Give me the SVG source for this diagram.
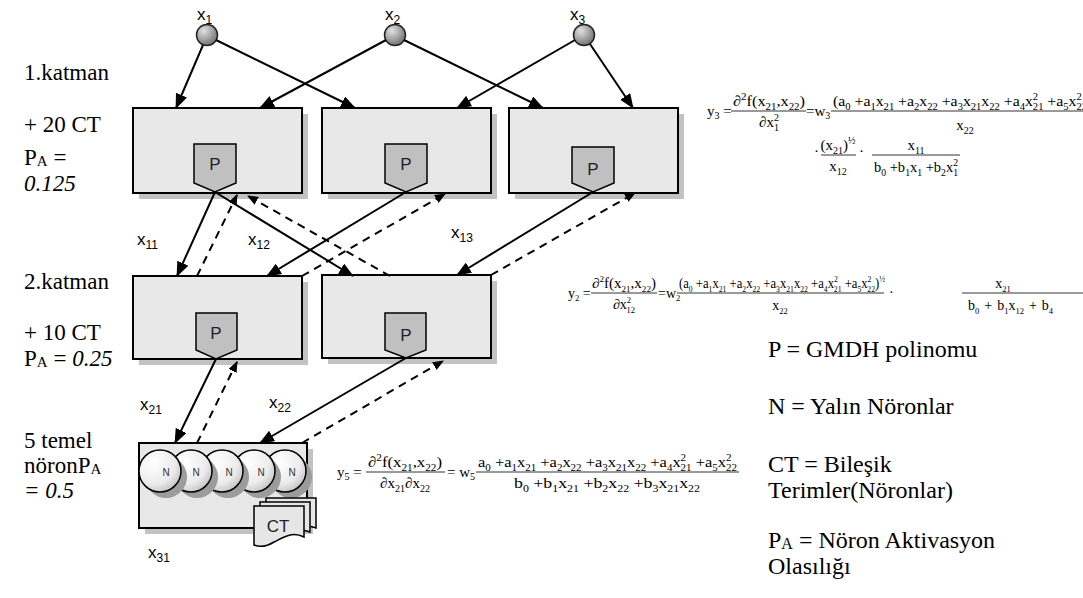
<svg xmlns="http://www.w3.org/2000/svg" width="1083" height="598" viewBox="0 0 1083 598">
<defs>
  <radialGradient id="gIn" cx="0.35" cy="0.3" r="0.75">
    <stop offset="0" stop-color="#e2e2e2"/>
    <stop offset="1" stop-color="#6e6e6e"/>
  </radialGradient>
  <radialGradient id="gN" cx="0.35" cy="0.3" r="0.85">
    <stop offset="0" stop-color="#ffffff"/>
    <stop offset="0.6" stop-color="#ececec"/>
    <stop offset="1" stop-color="#b4b4b4"/>
  </radialGradient>
  <marker id="ah" markerWidth="15" markerHeight="12" refX="14" refY="6" orient="auto" markerUnits="userSpaceOnUse">
    <path d="M0,0 L15,6 L0,12 z" fill="#000"/>
  </marker>
  <marker id="ahs" markerWidth="11" markerHeight="9" refX="10" refY="4.5" orient="auto" markerUnits="userSpaceOnUse">
    <path d="M0,0 L11,4.5 L0,9 z" fill="#000"/>
  </marker>
</defs>
<style>
 .box{fill:#e8e8e8;stroke:#000;stroke-width:2}
 .sh{fill:#c2c2c2}
 .p{fill:#c0c0c0;stroke:#000;stroke-width:1.5}
 .pt{font-family:'Liberation Sans',Arial,sans-serif;font-size:17px;fill:#222;text-anchor:middle}
 .nt{font-family:'Liberation Sans',Arial,sans-serif;font-size:10px;fill:#333;text-anchor:middle}
 .c{stroke:#000;stroke-width:2;fill:none;marker-end:url(#ah)}
 .d{stroke:#000;stroke-width:2;fill:none;stroke-dasharray:8,6;marker-end:url(#ahs)}
 .lab{font-family:'Liberation Sans',Arial,sans-serif;font-size:17px;fill:#000}
 .ls{font-size:12px}
 .tm{font-family:'Liberation Serif','Times New Roman',serif;font-size:23px;fill:#000}
 .lg{font-family:'Liberation Serif','Times New Roman',serif;font-size:24px;fill:#000}
 .e{font-family:'Liberation Serif','Times New Roman',serif;font-size:15px;fill:#000}
 .e2{font-family:'Liberation Serif','Times New Roman',serif;font-size:14px;fill:#000}
 .s{font-size:10px}
 .s2{font-size:8.5px}
 .fl{stroke:#000;stroke-width:0.8}
 .nc{fill:url(#gN);stroke:#000;stroke-width:1.5}
 .ns{fill:#9c9c9c}
 .ic{fill:url(#gIn);stroke:#222;stroke-width:1.5}
 .doc{fill:#e6e6e6;stroke:#000;stroke-width:1.5}
</style>

<!-- left labels -->
<g id="labels-left">
  <text class="tm" x="24" y="80">1.katman</text>
  <text class="tm" x="24" y="132">+ 20 CT</text>
  <text class="tm" x="24" y="165">P<tspan font-size="15" dy="1">A</tspan><tspan dy="-1"> =</tspan></text>
  <text class="tm" x="24" y="191" font-style="italic">0.125</text>
  <text class="tm" x="24" y="289">2.katman</text>
  <text class="tm" x="24" y="340">+ 10 CT</text>
  <text class="tm" x="24" y="366">P<tspan font-size="15" dy="1">A</tspan><tspan dy="-1"> = </tspan><tspan font-style="italic">0.25</tspan></text>
  <text class="tm" x="24" y="448">5 temel</text>
  <text class="tm" x="24" y="473">nöronP<tspan font-size="15" dy="1">A</tspan></text>
  <text class="tm" x="24" y="498" font-style="italic">= 0.5</text>
</g>

<!-- inputs -->
<g id="in-x1"><circle class="ic" cx="207" cy="35" r="10.5"/><text class="lab" x="197" y="20">x<tspan class="ls" dy="4">1</tspan></text></g>
<g id="in-x2"><circle class="ic" cx="395" cy="35" r="10.5"/><text class="lab" x="385" y="20">x<tspan class="ls" dy="4">2</tspan></text></g>
<g id="in-x3"><circle class="ic" cx="584" cy="35" r="10.5"/><text class="lab" x="570" y="20">x<tspan class="ls" dy="4">3</tspan></text></g>

<!-- layer 1 -->
<g id="l1n1">
  <rect class="sh" x="139" y="114" width="169" height="85"/>
  <rect class="box" x="133" y="108" width="169" height="85"/>
  <path class="p" d="M194,144 H236 V183 L215,192 L194,183 Z"/>
  <text class="pt" x="215" y="170">P</text>
</g>
<g id="l1n2">
  <rect class="sh" x="328" y="114" width="169" height="85"/>
  <rect class="box" x="322" y="108" width="169" height="85"/>
  <path class="p" d="M385,144 H427 V183 L406,192 L385,183 Z"/>
  <text class="pt" x="406" y="170">P</text>
</g>
<g id="l1n3">
  <rect class="sh" x="515" y="114" width="169" height="85"/>
  <rect class="box" x="509" y="108" width="169" height="85"/>
  <path class="p" d="M572,147 H614 V183 L593,192 L572,183 Z"/>
  <text class="pt" x="593" y="175">P</text>
</g>

<!-- layer 2 -->
<g id="l2n1">
  <rect class="sh" x="139" y="282" width="169" height="83"/>
  <rect class="box" x="133" y="276" width="169" height="83"/>
  <path class="p" d="M196,313 H237 V350 L216,359 L196,350 Z"/>
  <text class="pt" x="216" y="339">P</text>
</g>
<g id="l2n2">
  <rect class="sh" x="328" y="281" width="169" height="83"/>
  <rect class="box" x="322" y="275" width="169" height="83"/>
  <path class="p" d="M385,313 H426 V350 L406,358 L385,350 Z"/>
  <text class="pt" x="406" y="341">P</text>
</g>

<!-- layer 3 -->
<g id="l3">
  <rect class="sh" x="145" y="449" width="168" height="85"/>
  <rect class="box" x="139" y="443" width="168" height="85"/>
  <circle class="ns" cx="291" cy="477" r="21"/><circle class="nc" cx="285" cy="471" r="21"/><text class="nt" x="292" y="476">N</text>
  <circle class="ns" cx="260" cy="477" r="21"/><circle class="nc" cx="254" cy="471" r="21"/><text class="nt" x="261" y="476">N</text>
  <circle class="ns" cx="228" cy="477" r="21"/><circle class="nc" cx="222" cy="471" r="21"/><text class="nt" x="229" y="476">N</text>
  <circle class="ns" cx="197" cy="477" r="21"/><circle class="nc" cx="191" cy="471" r="21"/><text class="nt" x="196" y="476">N</text>
  <circle class="ns" cx="166" cy="477" r="21"/><circle class="nc" cx="160" cy="471" r="21"/><text class="nt" x="166" y="476">N</text>
  <path class="doc" d="M266,498 H316 V528 C306,524 298,528 290,532 C280,537 272,537 266,535 Z"/>
  <path class="doc" d="M260,502 H310 V532 C300,528 292,532 284,536 C274,541 266,541 260,539 Z"/>
  <path class="doc" d="M254,506 H304 V537 C292,531 284,537 274,542 C266,547 259,547 254,545 Z"/>
  <text class="pt" x="278" y="532" font-size="16">CT</text>
</g>

<!-- connectors -->
<g id="connectors">
  <line class="c" x1="203" y1="45" x2="176" y2="108"/>
  <line class="c" x1="216" y1="40" x2="355" y2="108"/>
  <line class="c" x1="386" y1="40" x2="260" y2="108"/>
  <line class="c" x1="404" y1="40" x2="543" y2="108"/>
  <line class="c" x1="575" y1="40" x2="457" y2="108"/>
  <line class="c" x1="590" y1="44" x2="633" y2="108"/>

  <line class="c" x1="215" y1="192" x2="177" y2="276"/>
  <line class="d" x1="197" y1="276" x2="237" y2="195"/>
  <line class="c" x1="215" y1="192" x2="353" y2="276"/>
  <line class="d" x1="390" y1="276" x2="248" y2="196"/>
  <line class="c" x1="406" y1="192" x2="267" y2="276"/>
  <line class="d" x1="302" y1="276" x2="445" y2="194"/>
  <line class="c" x1="593" y1="192" x2="457" y2="275"/>
  <line class="d" x1="491" y1="275" x2="635" y2="193"/>

  <line class="c" x1="216" y1="359" x2="175" y2="443"/>
  <line class="d" x1="197" y1="443" x2="237" y2="362"/>
  <line class="c" x1="406" y1="358" x2="260" y2="443"/>
  <line class="d" x1="302" y1="443" x2="443" y2="361"/>
</g>

<!-- connector labels -->
<g id="conn-labels">
  <text class="lab" x="137" y="245">x<tspan class="ls" dy="4">11</tspan></text>
  <text class="lab" x="248" y="245">x<tspan class="ls" dy="4">12</tspan></text>
  <text class="lab" x="451" y="238">x<tspan class="ls" dy="4">13</tspan></text>
  <text class="lab" x="140" y="410">x<tspan class="ls" dy="4">21</tspan></text>
  <text class="lab" x="269" y="408">x<tspan class="ls" dy="4">22</tspan></text>
  <text class="lab" x="148" y="558">x<tspan class="ls" dy="4">31</tspan></text>
</g>

<!-- equation y3 -->
<g id="eq-y3">
  <text class="e" x="707" y="116">y<tspan class="s" dy="3">3</tspan><tspan dy="-3"> =</tspan></text>
  <text class="e" x="769" y="106" text-anchor="middle" textLength="72" lengthAdjust="spacingAndGlyphs">∂<tspan class="s" dy="-6">2</tspan><tspan dy="6">f(x</tspan><tspan class="s" dy="4">21</tspan><tspan dy="-4">,x</tspan><tspan class="s" dy="4">22</tspan><tspan dy="-4">)</tspan></text>
  <line class="fl" x1="731" y1="111" x2="806" y2="111"/>
  <text class="e" x="769" y="127" text-anchor="middle">∂x<tspan class="s" dy="-6">2</tspan><tspan class="s" dx="-5" dy="10">1</tspan></text>
  <text class="e" x="806" y="116">=w<tspan class="s" dy="3">3</tspan></text>
  <text class="e" x="833" y="106" textLength="254" lengthAdjust="spacingAndGlyphs">(a<tspan class="s" dy="4">0</tspan><tspan dy="-4"> +a</tspan><tspan class="s" dy="4">1</tspan><tspan dy="-4">x</tspan><tspan class="s" dy="4">21</tspan><tspan dy="-4"> +a</tspan><tspan class="s" dy="4">2</tspan><tspan dy="-4">x</tspan><tspan class="s" dy="4">22</tspan><tspan dy="-4"> +a</tspan><tspan class="s" dy="4">3</tspan><tspan dy="-4">x</tspan><tspan class="s" dy="4">21</tspan><tspan dy="-4">x</tspan><tspan class="s" dy="4">22</tspan><tspan dy="-4"> +a</tspan><tspan class="s" dy="4">4</tspan><tspan dy="-4">x</tspan><tspan class="s" dy="-6">2</tspan><tspan class="s" dx="-5" dy="10">21</tspan><tspan dy="-4"> +a</tspan><tspan class="s" dy="4">5</tspan><tspan dy="-4">x</tspan><tspan class="s" dy="-6">2</tspan><tspan class="s" dx="-5" dy="10">22</tspan></text>
  <line class="fl" x1="831" y1="111" x2="1083" y2="111"/>
  <text class="e" x="965" y="130" text-anchor="middle">x<tspan class="s" dy="4">22</tspan></text>
  <text class="e" x="814" y="156">·</text>
  <text class="e" x="838" y="150" text-anchor="middle">(x<tspan class="s" dy="4">21</tspan><tspan dy="-4">)</tspan><tspan class="s" font-size="8" dy="-6">½</tspan></text>
  <line class="fl" x1="821" y1="155" x2="856" y2="155"/>
  <text class="e" x="838" y="171" text-anchor="middle">x<tspan class="s" dy="4">12</tspan></text>
  <text class="e" x="859" y="156">·</text>
  <text class="e" x="916" y="150" text-anchor="middle">x<tspan class="s" dy="4">11</tspan></text>
  <line class="fl" x1="872" y1="155" x2="960" y2="155"/>
  <text class="e" x="916" y="172" text-anchor="middle" textLength="84" lengthAdjust="spacingAndGlyphs">b<tspan class="s" dy="4">0</tspan><tspan dy="-4"> +b</tspan><tspan class="s" dy="4">1</tspan><tspan dy="-4">x</tspan><tspan class="s" dy="4">1</tspan><tspan dy="-4"> +b</tspan><tspan class="s" dy="4">2</tspan><tspan dy="-4">x</tspan><tspan class="s" dy="-6">2</tspan><tspan class="s" dx="-5" dy="10">1</tspan></text>
</g>

<!-- equation y2 -->
<g id="eq-y2">
  <text class="e2" x="568" y="298">y<tspan class="s2" dy="3">2</tspan><tspan dy="-3"> =</tspan></text>
  <text class="e2" x="624" y="288" text-anchor="middle" textLength="64" lengthAdjust="spacingAndGlyphs">∂<tspan class="s2" dy="-6">2</tspan><tspan dy="6">f(x</tspan><tspan class="s2" dy="4">21</tspan><tspan dy="-4">,x</tspan><tspan class="s2" dy="4">22</tspan><tspan dy="-4">)</tspan></text>
  <line class="fl" x1="591" y1="293" x2="657" y2="293"/>
  <text class="e2" x="624" y="309" text-anchor="middle">∂x<tspan class="s2" dy="-6">2</tspan><tspan class="s2" dx="-4.5" dy="10">12</tspan></text>
  <text class="e2" x="658" y="298">=w<tspan class="s2" dy="3">2</tspan></text>
  <text class="e2" x="679" y="288" textLength="206" lengthAdjust="spacingAndGlyphs">(a<tspan class="s2" dy="4">0</tspan><tspan dy="-4"> +a</tspan><tspan class="s2" dy="4">1</tspan><tspan dy="-4">x</tspan><tspan class="s2" dy="4">21</tspan><tspan dy="-4"> +a</tspan><tspan class="s2" dy="4">2</tspan><tspan dy="-4">x</tspan><tspan class="s2" dy="4">22</tspan><tspan dy="-4"> +a</tspan><tspan class="s2" dy="4">3</tspan><tspan dy="-4">x</tspan><tspan class="s2" dy="4">21</tspan><tspan dy="-4">x</tspan><tspan class="s2" dy="4">22</tspan><tspan dy="-4"> +a</tspan><tspan class="s2" dy="4">4</tspan><tspan dy="-4">x</tspan><tspan class="s2" dy="-6">2</tspan><tspan class="s2" dx="-4.5" dy="10">21</tspan><tspan dy="-4"> +a</tspan><tspan class="s2" dy="4">5</tspan><tspan dy="-4">x</tspan><tspan class="s2" dy="-6">2</tspan><tspan class="s2" dx="-4.5" dy="10">22</tspan><tspan dy="-4">)</tspan><tspan class="s2" font-size="8" dy="-6">½</tspan></text>
  <line class="fl" x1="677" y1="293" x2="884" y2="293"/>
  <text class="e2" x="780" y="310" text-anchor="middle">x<tspan class="s2" dy="4">22</tspan></text>
  <text class="e2" x="889" y="297">·</text>
  <text class="e2" x="1003" y="288" text-anchor="middle">x<tspan class="s2" dy="4">21</tspan></text>
  <line class="fl" x1="962" y1="293" x2="1083" y2="293"/>
  <text class="e2" x="968" y="310">b<tspan class="s2" dy="4">0</tspan><tspan dy="-4" dx="5">+</tspan><tspan dx="5">b</tspan><tspan class="s2" dy="4">1</tspan><tspan dy="-4">x</tspan><tspan class="s2" dy="4">12</tspan><tspan dy="-4" dx="5">+</tspan><tspan dx="5">b</tspan><tspan class="s2" dy="4">4</tspan></text>
</g>

<!-- equation y5 -->
<g id="eq-y5">
  <text class="e" x="337" y="477">y<tspan class="s" dy="3">5</tspan><tspan dy="-3"> =</tspan></text>
  <text class="e" x="405" y="467" text-anchor="middle" textLength="74" lengthAdjust="spacingAndGlyphs">∂<tspan class="s" dy="-6">2</tspan><tspan dy="6">f(x</tspan><tspan class="s" dy="4">21</tspan><tspan dy="-4">,x</tspan><tspan class="s" dy="4">22</tspan><tspan dy="-4">)</tspan></text>
  <line class="fl" x1="366" y1="472" x2="445" y2="472"/>
  <text class="e" x="405" y="488" text-anchor="middle">∂x<tspan class="s" dy="4">21</tspan><tspan dy="-4">∂x</tspan><tspan class="s" dy="4">22</tspan></text>
  <text class="e" x="447" y="477">= w<tspan class="s" dy="3">5</tspan></text>
  <text class="e" x="478" y="467" textLength="259" lengthAdjust="spacingAndGlyphs">a<tspan class="s" dy="4">0</tspan><tspan dy="-4"> +a</tspan><tspan class="s" dy="4">1</tspan><tspan dy="-4">x</tspan><tspan class="s" dy="4">21</tspan><tspan dy="-4"> +a</tspan><tspan class="s" dy="4">2</tspan><tspan dy="-4">x</tspan><tspan class="s" dy="4">22</tspan><tspan dy="-4"> +a</tspan><tspan class="s" dy="4">3</tspan><tspan dy="-4">x</tspan><tspan class="s" dy="4">21</tspan><tspan dy="-4">x</tspan><tspan class="s" dy="4">22</tspan><tspan dy="-4"> +a</tspan><tspan class="s" dy="4">4</tspan><tspan dy="-4">x</tspan><tspan class="s" dy="-6">2</tspan><tspan class="s" dx="-5" dy="10">21</tspan><tspan dy="-4"> +a</tspan><tspan class="s" dy="4">5</tspan><tspan dy="-4">x</tspan><tspan class="s" dy="-6">2</tspan><tspan class="s" dx="-5" dy="10">22</tspan></text>
  <line class="fl" x1="476" y1="472" x2="739" y2="472"/>
  <text class="e" x="607" y="488" text-anchor="middle" textLength="186" lengthAdjust="spacingAndGlyphs">b<tspan class="s" dy="4">0</tspan><tspan dy="-4"> +b</tspan><tspan class="s" dy="4">1</tspan><tspan dy="-4">x</tspan><tspan class="s" dy="4">21</tspan><tspan dy="-4"> +b</tspan><tspan class="s" dy="4">2</tspan><tspan dy="-4">x</tspan><tspan class="s" dy="4">22</tspan><tspan dy="-4"> +b</tspan><tspan class="s" dy="4">3</tspan><tspan dy="-4">x</tspan><tspan class="s" dy="4">21</tspan><tspan dy="-4">x</tspan><tspan class="s" dy="4">22</tspan></text>
</g>

<!-- legend -->
<g id="legend">
  <text class="lg" x="768" y="357">P = GMDH polinomu</text>
  <text class="lg" x="768" y="414">N = Yalın Nöronlar</text>
  <text class="lg" x="768" y="472">CT = Bileşik</text>
  <text class="lg" x="768" y="498">Terimler(Nöronlar)</text>
  <text class="lg" x="768" y="548">P<tspan font-size="16" dy="1">A</tspan><tspan dy="-1"> = Nöron Aktivasyon</tspan></text>
  <text class="lg" x="768" y="574">Olasılığı</text>
</g>
</svg>
